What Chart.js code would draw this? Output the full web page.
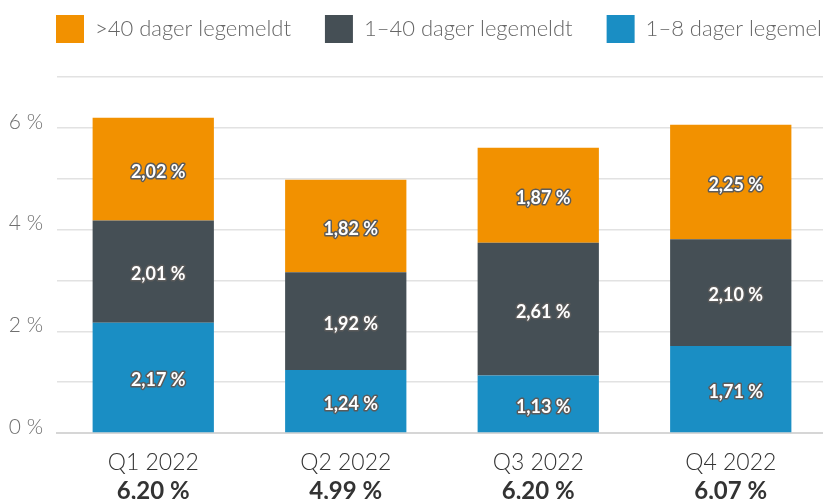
<!DOCTYPE html>
<html>
<head>
<meta charset="utf-8">
<script src="https://cdn.jsdelivr.net/npm/chart.js@4.4.1/dist/chart.umd.min.js"></script>
<style>
  html, body { margin: 0; padding: 0; background: #fff; overflow: hidden; }
  #wrap { width: 823px; height: 499px; overflow: hidden; }
  #box { width: 890px; height: 499px; }
</style>
</head>
<body>
<div id="wrap"><div id="box"><canvas id="chart"></canvas></div></div>
<script>
'use strict'

// quarters + totals shown under each bar
const quarters = ['Q1 2022', 'Q2 2022', 'Q3 2022', 'Q4 2022'];
const totals = ['6,20 %', '4,99 %', '6,20 %', '6,07 %'];

// series (percent)
const shortLeave = [2.17, 1.24, 1.13, 1.71];   // 1–8 dager
const midLeave = [2.01, 1.92, 2.61, 2.10];     // 1–40 dager
const longLeave = [2.02, 1.82, 1.87, 2.25];    // >40 dager

const yTicks = [0, 2, 4, 6];

const fmt = (v) => v.toFixed(2).replace('.', ',') + ' %';

Chart.defaults.font.family = 'Lato, "Open Sans", sans-serif';

// white labels with a grey outline inside every segment
const valueLabels = {
    id: 'valueLabels',
    afterDatasetsDraw(chart) {
        const ctx = chart.ctx;
        ctx.save();
        ctx.font = 'bold 18px Lato';
        ctx.textAlign = 'center';
        ctx.textBaseline = 'middle';
        ctx.lineJoin = 'round';
        chart.data.datasets.forEach((ds, i) => {
            chart.getDatasetMeta(i).data.forEach((bar, j) => {
                const p = bar.getCenterPoint();
                const txt = fmt(ds.data[j]);
                ctx.strokeStyle = '#5b5b5b';
                ctx.lineWidth = 3;
                ctx.strokeText(txt, p.x + 5, p.y + 3);
                ctx.fillStyle = '#fff';
                ctx.fillText(txt, p.x + 5, p.y + 3);
            });
        });
        ctx.restore();
    }
};

// two-line category labels, second line bold
const quarterLabels = {
    id: 'quarterLabels',
    afterDraw(chart) {
        const ctx = chart.ctx;
        const x = chart.scales.x;
        const bottom = chart.chartArea.bottom;
        ctx.save();
        ctx.textAlign = 'center';
        ctx.textBaseline = 'middle';
        ctx.fillStyle = '#333';
        quarters.forEach((q, i) => {
            const px = x.getPixelForValue(i);
            ctx.font = '300 23px Lato';
            ctx.fillText(q, px, bottom + 30);
            ctx.font = 'bold 24px Lato';
            ctx.fillText(totals[i], px, bottom + 58);
        });
        ctx.restore();
    }
};

// keep the legend on one row (it runs off the right edge like the original)
const legendFit = {
    id: 'legendFit',
    beforeInit(chart) {
        const lg = chart.legend;
        const fit = lg.fit;
        lg.fit = function () {
            this.maxWidth = 2000;
            fit.call(this);
            this.height = 96;
        };
        const draw = lg.draw;
        lg.draw = function () {
            this.left = 22;
            this.right = 2000;
            draw.call(this);
        };
    }
};

const ctx = document.getElementById('chart');
const chart = new Chart(ctx, {
    type: 'bar',
    data: {
        labels: quarters,
        datasets: [
            { label: '1–8 dager legemeldt', data: shortLeave, backgroundColor: '#1a8ec4' },
            { label: '1–40 dager legemeldt', data: midLeave, backgroundColor: '#454f55' },
            { label: '>40 dager legemeldt', data: longLeave, backgroundColor: '#f29100' }
        ]
    },
    options: {
        responsive: true,
        maintainAspectRatio: false,
        animation: false,
        layout: { padding: { left: 0, right: 63, top: -19, bottom: 58 } },
        datasets: { bar: { categoryPercentage: 1, barPercentage: 0.63 } },
        scales: {
            x: {
                stacked: true,
                grid: { display: false },
                border: { color: '#d6d6d6', width: 2 },
                ticks: { display: false }
            },
            y: {
                stacked: true,
                min: 0,
                max: 7,
                afterFit(scale) { scale.width = 57; },
                afterBuildTicks(scale) {
                    scale.ticks = [0, 1, 2, 3, 4, 5, 6, 7].map(v => ({ value: v }));
                },
                grid: { color: '#e2e2e2', lineWidth: 1.5, drawTicks: false },
                border: { display: false },
                ticks: {
                    padding: 14,
                    labelOffset: -6,
                    color: '#6f6f6f',
                    font: { size: 21, weight: '300' },
                    callback: (v) => yTicks.includes(v) ? v + ' %' : ''
                }
            }
        },
        plugins: {
            tooltip: { enabled: false },
            legend: {
                position: 'top',
                align: 'start',
                reverse: true,
                labels: {
                    boxWidth: 28,
                    boxHeight: 28,
                    padding: 34,
                    color: '#666',
                    font: { size: 22, weight: '300' }
                }
            }
        }
    },
    plugins: [legendFit, valueLabels, quarterLabels]
});
</script>
</body>
</html>
